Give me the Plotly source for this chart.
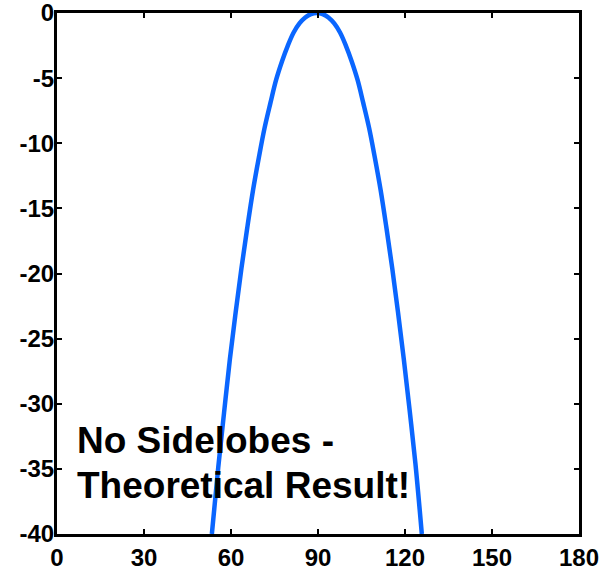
import plotly.graph_objects as go

# Beam pattern (angle in degrees, level in dB)
angle_deg = [53.4, 55.6, 57.6, 59.6, 61.6, 63.6, 65.6, 67.6, 69.6, 71.6, 73.6, 75.6,
             77.6, 79.6, 81.6, 83.6, 85.6, 87.6, 89.6, 91.6, 93.6, 95.6, 97.6, 99.6,
             101.6, 103.6, 105.6, 107.6, 109.6, 111.6, 113.6, 115.6, 117.6, 119.6,
             121.6, 123.6, 125.8]
level_db = [-40.0, -34.9, -30.7, -26.6, -23.0, -19.6, -16.5, -13.6, -11.1, -8.8, -6.9, -5.1,
            -3.7, -2.5, -1.5, -0.8, -0.34, -0.08, 0.0, -0.08, -0.34, -0.8, -1.5, -2.5,
            -3.7, -5.1, -6.9, -8.8, -11.1, -13.6, -16.5, -19.6, -23.0, -26.6,
            -30.5, -34.6, -40.0]

x_ticks = [0, 30, 60, 90, 120, 150, 180]
y_ticks = [0, -5, -10, -15, -20, -25, -30, -35, -40]
note_lines = ["No Sidelobes -", "Theoretical Result!"]
note_levels = [-32.85, -36.3]

FONT = "Liberation Sans, Arial, sans-serif"

fig = go.Figure()
fig.add_trace(go.Scatter(
    x=angle_deg, y=level_db, mode="lines",
    line=dict(color="#0a66ff", width=4.5, shape="spline", smoothing=1.0),
    showlegend=False, hoverinfo="skip",
))

for txt, lvl in zip(note_lines, note_levels):
    fig.add_annotation(
        x=6.3, y=lvl, xref="x", yref="y", xanchor="left", yanchor="middle",
        text=txt, showarrow=False, align="left",
        font=dict(family=FONT, size=37, color="black", weight="bold"),
    )

axis_common = dict(
    showgrid=False, zeroline=False, showline=True, linecolor="black", linewidth=3,
    mirror="ticks", ticks="inside", ticklen=5, tickwidth=2, tickcolor="black",
    automargin=False, ticklabeloverflow="allow",
    tickfont=dict(family=FONT, size=24, color="black", weight="bold"),
)

fig.update_layout(
    width=606, height=568,
    margin=dict(l=57, r=27, t=13, b=34),
    paper_bgcolor="white", plot_bgcolor="white",
    xaxis=dict(range=[0, 180], tickvals=x_ticks, ticktext=[str(v) for v in x_ticks], **axis_common),
    yaxis=dict(range=[-40, 0], tickvals=y_ticks, ticktext=[str(v) for v in y_ticks],
               ticklabelstandoff=-5, **axis_common),
)

fig.write_html("out.html")
